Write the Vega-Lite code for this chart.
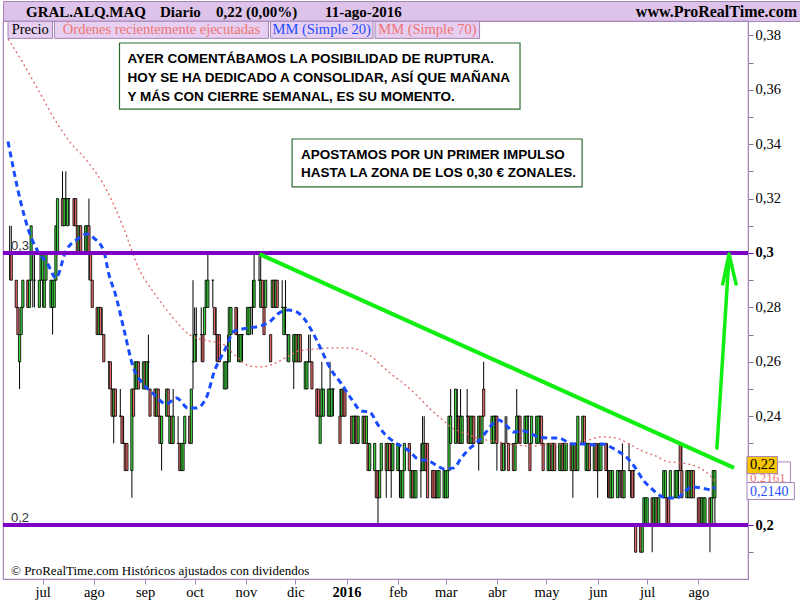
{
"$schema": "https://vega.github.io/schema/vega-lite/v6.json",
"padding": 0,
"spacing": 0,
"bounds": "flush",
"background": "#ffffff",
"config": {"view": {"stroke": null}, "font": "Liberation Serif",
 "axis": {"labelFont": "Liberation Serif", "labelFontSize": 14.5, "labelColor": "#000", "domainColor": "#a585b8", "tickColor": "#8a7098", "grid": false, "title": null}},
"datasets": {
"px": [
{"d":"2015-06-11","o":0.30,"h":0.31,"l":0.29,"c":0.30},
{"d":"2015-06-12","o":0.30,"h":0.31,"l":0.29,"c":0.29},
{"d":"2015-06-15","o":0.29,"h":0.29,"l":0.28,"c":0.28},
{"d":"2015-06-16","o":0.28,"h":0.28,"l":0.27,"c":0.27},
{"d":"2015-06-17","o":0.26,"h":0.27,"l":0.25,"c":0.27},
{"d":"2015-06-18","o":0.27,"h":0.28,"l":0.27,"c":0.28},
{"d":"2015-06-19","o":0.28,"h":0.29,"l":0.28,"c":0.29},
{"d":"2015-06-22","o":0.29,"h":0.29,"l":0.28,"c":0.28},
{"d":"2015-06-23","o":0.28,"h":0.29,"l":0.28,"c":0.29},
{"d":"2015-06-24","o":0.29,"h":0.31,"l":0.29,"c":0.31},
{"d":"2015-06-25","o":0.30,"h":0.30,"l":0.28,"c":0.30},
{"d":"2015-06-26","o":0.29,"h":0.30,"l":0.28,"c":0.29},
{"d":"2015-06-29","o":0.28,"h":0.29,"l":0.28,"c":0.29},
{"d":"2015-06-30","o":0.29,"h":0.30,"l":0.29,"c":0.30},
{"d":"2015-07-01","o":0.29,"h":0.30,"l":0.28,"c":0.30},
{"d":"2015-07-02","o":0.28,"h":0.29,"l":0.28,"c":0.29},
{"d":"2015-07-03","o":0.29,"h":0.30,"l":0.29,"c":0.30},
{"d":"2015-07-06","o":0.28,"h":0.29,"l":0.28,"c":0.29},
{"d":"2015-07-07","o":0.28,"h":0.29,"l":0.27,"c":0.29},
{"d":"2015-07-08","o":0.28,"h":0.29,"l":0.28,"c":0.29},
{"d":"2015-07-09","o":0.29,"h":0.31,"l":0.29,"c":0.31},
{"d":"2015-07-10","o":0.30,"h":0.32,"l":0.30,"c":0.32},
{"d":"2015-07-13","o":0.32,"h":0.33,"l":0.31,"c":0.31},
{"d":"2015-07-14","o":0.31,"h":0.32,"l":0.31,"c":0.32},
{"d":"2015-07-15","o":0.32,"h":0.33,"l":0.31,"c":0.32},
{"d":"2015-07-16","o":0.31,"h":0.32,"l":0.31,"c":0.32},
{"d":"2015-07-17","o":0.32,"h":0.32,"l":0.31,"c":0.32},
{"d":"2015-07-20","o":0.32,"h":0.32,"l":0.31,"c":0.31},
{"d":"2015-07-21","o":0.32,"h":0.32,"l":0.31,"c":0.31},
{"d":"2015-07-22","o":0.31,"h":0.31,"l":0.30,"c":0.30},
{"d":"2015-07-23","o":0.30,"h":0.31,"l":0.30,"c":0.31},
{"d":"2015-07-24","o":0.31,"h":0.31,"l":0.30,"c":0.30},
{"d":"2015-07-27","o":0.30,"h":0.31,"l":0.30,"c":0.31},
{"d":"2015-07-28","o":0.30,"h":0.31,"l":0.30,"c":0.31},
{"d":"2015-07-29","o":0.31,"h":0.32,"l":0.29,"c":0.30},
{"d":"2015-07-30","o":0.30,"h":0.30,"l":0.29,"c":0.29},
{"d":"2015-07-31","o":0.29,"h":0.29,"l":0.28,"c":0.28},
{"d":"2015-08-03","o":0.28,"h":0.28,"l":0.27,"c":0.27},
{"d":"2015-08-04","o":0.27,"h":0.28,"l":0.27,"c":0.28},
{"d":"2015-08-05","o":0.28,"h":0.28,"l":0.27,"c":0.27},
{"d":"2015-08-06","o":0.27,"h":0.28,"l":0.27,"c":0.27},
{"d":"2015-08-07","o":0.27,"h":0.27,"l":0.26,"c":0.26},
{"d":"2015-08-10","o":0.26,"h":0.26,"l":0.25,"c":0.26},
{"d":"2015-08-11","o":0.26,"h":0.26,"l":0.25,"c":0.25},
{"d":"2015-08-12","o":0.25,"h":0.25,"l":0.24,"c":0.24},
{"d":"2015-08-13","o":0.24,"h":0.25,"l":0.23,"c":0.25},
{"d":"2015-08-14","o":0.25,"h":0.25,"l":0.24,"c":0.24},
{"d":"2015-08-17","o":0.24,"h":0.25,"l":0.24,"c":0.24},
{"d":"2015-08-18","o":0.24,"h":0.24,"l":0.23,"c":0.23},
{"d":"2015-08-19","o":0.23,"h":0.24,"l":0.23,"c":0.23},
{"d":"2015-08-20","o":0.23,"h":0.23,"l":0.22,"c":0.22},
{"d":"2015-08-21","o":0.23,"h":0.23,"l":0.22,"c":0.22},
{"d":"2015-08-24","o":0.22,"h":0.25,"l":0.21,"c":0.25},
{"d":"2015-08-25","o":0.25,"h":0.25,"l":0.24,"c":0.24},
{"d":"2015-08-26","o":0.25,"h":0.26,"l":0.25,"c":0.26},
{"d":"2015-08-27","o":0.25,"h":0.26,"l":0.25,"c":0.26},
{"d":"2015-08-28","o":0.26,"h":0.26,"l":0.25,"c":0.25},
{"d":"2015-08-31","o":0.25,"h":0.26,"l":0.25,"c":0.26},
{"d":"2015-09-01","o":0.26,"h":0.26,"l":0.25,"c":0.25},
{"d":"2015-09-02","o":0.25,"h":0.26,"l":0.25,"c":0.26},
{"d":"2015-09-03","o":0.26,"h":0.27,"l":0.25,"c":0.26},
{"d":"2015-09-04","o":0.25,"h":0.25,"l":0.24,"c":0.24},
{"d":"2015-09-07","o":0.25,"h":0.25,"l":0.24,"c":0.24},
{"d":"2015-09-08","o":0.24,"h":0.25,"l":0.24,"c":0.25},
{"d":"2015-09-09","o":0.25,"h":0.25,"l":0.24,"c":0.24},
{"d":"2015-09-10","o":0.24,"h":0.24,"l":0.23,"c":0.23},
{"d":"2015-09-11","o":0.23,"h":0.24,"l":0.22,"c":0.24},
{"d":"2015-09-14","o":0.24,"h":0.25,"l":0.24,"c":0.25},
{"d":"2015-09-15","o":0.25,"h":0.25,"l":0.24,"c":0.24},
{"d":"2015-09-16","o":0.23,"h":0.24,"l":0.23,"c":0.24},
{"d":"2015-09-17","o":0.24,"h":0.24,"l":0.23,"c":0.23},
{"d":"2015-09-18","o":0.23,"h":0.25,"l":0.23,"c":0.24},
{"d":"2015-09-21","o":0.23,"h":0.24,"l":0.23,"c":0.23},
{"d":"2015-09-22","o":0.23,"h":0.23,"l":0.22,"c":0.22},
{"d":"2015-09-23","o":0.22,"h":0.23,"l":0.22,"c":0.23},
{"d":"2015-09-24","o":0.22,"h":0.23,"l":0.22,"c":0.23},
{"d":"2015-09-25","o":0.23,"h":0.24,"l":0.23,"c":0.24},
{"d":"2015-09-28","o":0.24,"h":0.24,"l":0.23,"c":0.23},
{"d":"2015-09-29","o":0.23,"h":0.25,"l":0.23,"c":0.25},
{"d":"2015-09-30","o":0.26,"h":0.29,"l":0.25,"c":0.26},
{"d":"2015-10-01","o":0.26,"h":0.28,"l":0.26,"c":0.27},
{"d":"2015-10-02","o":0.27,"h":0.28,"l":0.26,"c":0.27},
{"d":"2015-10-05","o":0.27,"h":0.28,"l":0.26,"c":0.27},
{"d":"2015-10-06","o":0.27,"h":0.27,"l":0.26,"c":0.26},
{"d":"2015-10-07","o":0.27,"h":0.28,"l":0.27,"c":0.28},
{"d":"2015-10-08","o":0.28,"h":0.29,"l":0.28,"c":0.29},
{"d":"2015-10-09","o":0.28,"h":0.30,"l":0.28,"c":0.29},
{"d":"2015-10-12","o":0.29,"h":0.29,"l":0.28,"c":0.29},
{"d":"2015-10-13","o":0.28,"h":0.28,"l":0.27,"c":0.27},
{"d":"2015-10-14","o":0.27,"h":0.28,"l":0.26,"c":0.27},
{"d":"2015-10-15","o":0.27,"h":0.27,"l":0.26,"c":0.26},
{"d":"2015-10-16","o":0.27,"h":0.27,"l":0.26,"c":0.26},
{"d":"2015-10-19","o":0.25,"h":0.26,"l":0.25,"c":0.26},
{"d":"2015-10-20","o":0.25,"h":0.26,"l":0.25,"c":0.26},
{"d":"2015-10-21","o":0.26,"h":0.27,"l":0.25,"c":0.26},
{"d":"2015-10-22","o":0.26,"h":0.28,"l":0.26,"c":0.28},
{"d":"2015-10-23","o":0.27,"h":0.28,"l":0.27,"c":0.28},
{"d":"2015-10-26","o":0.28,"h":0.28,"l":0.27,"c":0.27},
{"d":"2015-10-27","o":0.27,"h":0.28,"l":0.26,"c":0.27},
{"d":"2015-10-28","o":0.26,"h":0.27,"l":0.26,"c":0.27},
{"d":"2015-10-29","o":0.26,"h":0.27,"l":0.26,"c":0.27},
{"d":"2015-10-30","o":0.27,"h":0.27,"l":0.26,"c":0.27},
{"d":"2015-11-02","o":0.27,"h":0.28,"l":0.27,"c":0.28},
{"d":"2015-11-03","o":0.27,"h":0.28,"l":0.27,"c":0.28},
{"d":"2015-11-04","o":0.28,"h":0.28,"l":0.27,"c":0.28},
{"d":"2015-11-05","o":0.28,"h":0.29,"l":0.27,"c":0.28},
{"d":"2015-11-06","o":0.28,"h":0.30,"l":0.28,"c":0.29},
{"d":"2015-11-09","o":0.29,"h":0.30,"l":0.29,"c":0.29},
{"d":"2015-11-10","o":0.28,"h":0.30,"l":0.28,"c":0.29},
{"d":"2015-11-11","o":0.29,"h":0.29,"l":0.28,"c":0.28},
{"d":"2015-11-12","o":0.28,"h":0.28,"l":0.27,"c":0.27},
{"d":"2015-11-13","o":0.28,"h":0.29,"l":0.28,"c":0.29},
{"d":"2015-11-16","o":0.27,"h":0.27,"l":0.26,"c":0.26},
{"d":"2015-11-17","o":0.28,"h":0.29,"l":0.28,"c":0.29},
{"d":"2015-11-18","o":0.29,"h":0.29,"l":0.28,"c":0.28},
{"d":"2015-11-19","o":0.28,"h":0.29,"l":0.28,"c":0.29},
{"d":"2015-11-20","o":0.29,"h":0.29,"l":0.28,"c":0.28},
{"d":"2015-11-23","o":0.28,"h":0.29,"l":0.28,"c":0.28},
{"d":"2015-11-24","o":0.27,"h":0.28,"l":0.27,"c":0.28},
{"d":"2015-11-25","o":0.28,"h":0.29,"l":0.27,"c":0.28},
{"d":"2015-11-26","o":0.27,"h":0.27,"l":0.26,"c":0.27},
{"d":"2015-11-27","o":0.26,"h":0.27,"l":0.26,"c":0.27},
{"d":"2015-11-30","o":0.26,"h":0.27,"l":0.25,"c":0.27},
{"d":"2015-12-01","o":0.26,"h":0.27,"l":0.26,"c":0.27},
{"d":"2015-12-02","o":0.27,"h":0.27,"l":0.26,"c":0.26},
{"d":"2015-12-03","o":0.26,"h":0.27,"l":0.26,"c":0.27},
{"d":"2015-12-04","o":0.27,"h":0.27,"l":0.26,"c":0.26},
{"d":"2015-12-07","o":0.25,"h":0.26,"l":0.25,"c":0.26},
{"d":"2015-12-08","o":0.25,"h":0.26,"l":0.25,"c":0.26},
{"d":"2015-12-09","o":0.26,"h":0.27,"l":0.26,"c":0.26},
{"d":"2015-12-10","o":0.26,"h":0.27,"l":0.26,"c":0.26},
{"d":"2015-12-11","o":0.26,"h":0.26,"l":0.25,"c":0.25},
{"d":"2015-12-14","o":0.25,"h":0.25,"l":0.24,"c":0.24},
{"d":"2015-12-15","o":0.25,"h":0.25,"l":0.24,"c":0.24},
{"d":"2015-12-16","o":0.23,"h":0.24,"l":0.23,"c":0.24},
{"d":"2015-12-17","o":0.24,"h":0.26,"l":0.24,"c":0.25},
{"d":"2015-12-18","o":0.24,"h":0.25,"l":0.24,"c":0.25},
{"d":"2015-12-21","o":0.24,"h":0.25,"l":0.24,"c":0.25},
{"d":"2015-12-22","o":0.24,"h":0.26,"l":0.24,"c":0.25},
{"d":"2015-12-23","o":0.24,"h":0.25,"l":0.24,"c":0.25},
{"d":"2015-12-24","o":0.25,"h":0.25,"l":0.24,"c":0.25},
{"d":"2015-12-28","o":0.24,"h":0.25,"l":0.23,"c":0.23},
{"d":"2015-12-29","o":0.24,"h":0.25,"l":0.24,"c":0.25},
{"d":"2015-12-30","o":0.25,"h":0.25,"l":0.24,"c":0.24},
{"d":"2015-12-31","o":0.25,"h":0.25,"l":0.24,"c":0.24},
{"d":"2016-01-04","o":0.24,"h":0.24,"l":0.23,"c":0.23},
{"d":"2016-01-05","o":0.23,"h":0.24,"l":0.23,"c":0.24},
{"d":"2016-01-06","o":0.24,"h":0.24,"l":0.23,"c":0.24},
{"d":"2016-01-07","o":0.24,"h":0.24,"l":0.23,"c":0.23},
{"d":"2016-01-08","o":0.23,"h":0.24,"l":0.23,"c":0.24},
{"d":"2016-01-11","o":0.23,"h":0.24,"l":0.23,"c":0.24},
{"d":"2016-01-12","o":0.24,"h":0.24,"l":0.23,"c":0.23},
{"d":"2016-01-13","o":0.23,"h":0.24,"l":0.23,"c":0.24},
{"d":"2016-01-14","o":0.23,"h":0.23,"l":0.22,"c":0.22},
{"d":"2016-01-15","o":0.22,"h":0.23,"l":0.22,"c":0.23},
{"d":"2016-01-18","o":0.22,"h":0.23,"l":0.22,"c":0.23},
{"d":"2016-01-19","o":0.22,"h":0.22,"l":0.21,"c":0.21},
{"d":"2016-01-20","o":0.22,"h":0.22,"l":0.20,"c":0.21},
{"d":"2016-01-21","o":0.21,"h":0.22,"l":0.21,"c":0.22},
{"d":"2016-01-22","o":0.22,"h":0.23,"l":0.22,"c":0.23},
{"d":"2016-01-25","o":0.23,"h":0.23,"l":0.21,"c":0.22},
{"d":"2016-01-26","o":0.22,"h":0.23,"l":0.22,"c":0.23},
{"d":"2016-01-27","o":0.23,"h":0.23,"l":0.22,"c":0.22},
{"d":"2016-01-28","o":0.22,"h":0.23,"l":0.21,"c":0.22},
{"d":"2016-01-29","o":0.22,"h":0.23,"l":0.22,"c":0.23},
{"d":"2016-02-01","o":0.22,"h":0.23,"l":0.22,"c":0.23},
{"d":"2016-02-02","o":0.22,"h":0.23,"l":0.21,"c":0.22},
{"d":"2016-02-03","o":0.21,"h":0.22,"l":0.21,"c":0.22},
{"d":"2016-02-04","o":0.21,"h":0.22,"l":0.21,"c":0.22},
{"d":"2016-02-05","o":0.22,"h":0.23,"l":0.22,"c":0.23},
{"d":"2016-02-08","o":0.23,"h":0.23,"l":0.22,"c":0.22},
{"d":"2016-02-09","o":0.21,"h":0.22,"l":0.21,"c":0.22},
{"d":"2016-02-10","o":0.22,"h":0.22,"l":0.21,"c":0.21},
{"d":"2016-02-11","o":0.21,"h":0.22,"l":0.21,"c":0.22},
{"d":"2016-02-12","o":0.21,"h":0.22,"l":0.21,"c":0.22},
{"d":"2016-02-15","o":0.22,"h":0.23,"l":0.21,"c":0.22},
{"d":"2016-02-16","o":0.22,"h":0.24,"l":0.22,"c":0.23},
{"d":"2016-02-17","o":0.22,"h":0.24,"l":0.22,"c":0.23},
{"d":"2016-02-18","o":0.23,"h":0.23,"l":0.22,"c":0.22},
{"d":"2016-02-19","o":0.23,"h":0.23,"l":0.21,"c":0.21},
{"d":"2016-02-22","o":0.22,"h":0.22,"l":0.21,"c":0.21},
{"d":"2016-02-23","o":0.22,"h":0.22,"l":0.21,"c":0.21},
{"d":"2016-02-24","o":0.21,"h":0.22,"l":0.21,"c":0.21},
{"d":"2016-02-25","o":0.21,"h":0.22,"l":0.21,"c":0.22},
{"d":"2016-02-26","o":0.21,"h":0.22,"l":0.21,"c":0.22},
{"d":"2016-02-29","o":0.21,"h":0.22,"l":0.21,"c":0.22},
{"d":"2016-03-01","o":0.21,"h":0.22,"l":0.21,"c":0.22},
{"d":"2016-03-02","o":0.21,"h":0.22,"l":0.21,"c":0.22},
{"d":"2016-03-03","o":0.22,"h":0.24,"l":0.22,"c":0.24},
{"d":"2016-03-04","o":0.23,"h":0.25,"l":0.23,"c":0.24},
{"d":"2016-03-07","o":0.23,"h":0.25,"l":0.23,"c":0.25},
{"d":"2016-03-08","o":0.24,"h":0.25,"l":0.23,"c":0.24},
{"d":"2016-03-09","o":0.24,"h":0.24,"l":0.23,"c":0.23},
{"d":"2016-03-10","o":0.23,"h":0.25,"l":0.23,"c":0.24},
{"d":"2016-03-11","o":0.23,"h":0.24,"l":0.23,"c":0.24},
{"d":"2016-03-14","o":0.24,"h":0.25,"l":0.23,"c":0.24},
{"d":"2016-03-15","o":0.24,"h":0.24,"l":0.23,"c":0.23},
{"d":"2016-03-16","o":0.23,"h":0.24,"l":0.23,"c":0.24},
{"d":"2016-03-17","o":0.23,"h":0.24,"l":0.23,"c":0.24},
{"d":"2016-03-18","o":0.24,"h":0.24,"l":0.23,"c":0.23},
{"d":"2016-03-21","o":0.23,"h":0.24,"l":0.22,"c":0.24},
{"d":"2016-03-22","o":0.24,"h":0.24,"l":0.23,"c":0.23},
{"d":"2016-03-23","o":0.23,"h":0.24,"l":0.23,"c":0.24},
{"d":"2016-03-24","o":0.25,"h":0.26,"l":0.24,"c":0.24},
{"d":"2016-03-29","o":0.23,"h":0.24,"l":0.23,"c":0.24},
{"d":"2016-03-30","o":0.23,"h":0.24,"l":0.23,"c":0.24},
{"d":"2016-03-31","o":0.24,"h":0.24,"l":0.23,"c":0.24},
{"d":"2016-04-01","o":0.24,"h":0.24,"l":0.22,"c":0.23},
{"d":"2016-04-04","o":0.23,"h":0.23,"l":0.22,"c":0.22},
{"d":"2016-04-05","o":0.22,"h":0.23,"l":0.22,"c":0.23},
{"d":"2016-04-06","o":0.23,"h":0.24,"l":0.22,"c":0.23},
{"d":"2016-04-07","o":0.23,"h":0.24,"l":0.23,"c":0.23},
{"d":"2016-04-08","o":0.23,"h":0.23,"l":0.22,"c":0.22},
{"d":"2016-04-11","o":0.23,"h":0.23,"l":0.22,"c":0.22},
{"d":"2016-04-12","o":0.22,"h":0.23,"l":0.22,"c":0.23},
{"d":"2016-04-13","o":0.23,"h":0.25,"l":0.23,"c":0.24},
{"d":"2016-04-14","o":0.24,"h":0.24,"l":0.23,"c":0.24},
{"d":"2016-04-15","o":0.24,"h":0.24,"l":0.23,"c":0.23},
{"d":"2016-04-18","o":0.23,"h":0.24,"l":0.23,"c":0.24},
{"d":"2016-04-19","o":0.23,"h":0.24,"l":0.23,"c":0.24},
{"d":"2016-04-20","o":0.24,"h":0.24,"l":0.23,"c":0.24},
{"d":"2016-04-21","o":0.23,"h":0.23,"l":0.22,"c":0.22},
{"d":"2016-04-22","o":0.23,"h":0.24,"l":0.23,"c":0.24},
{"d":"2016-04-25","o":0.23,"h":0.24,"l":0.23,"c":0.24},
{"d":"2016-04-26","o":0.23,"h":0.24,"l":0.23,"c":0.24},
{"d":"2016-04-27","o":0.24,"h":0.24,"l":0.23,"c":0.24},
{"d":"2016-04-28","o":0.24,"h":0.24,"l":0.23,"c":0.23},
{"d":"2016-04-29","o":0.23,"h":0.23,"l":0.22,"c":0.22},
{"d":"2016-05-02","o":0.22,"h":0.23,"l":0.22,"c":0.23},
{"d":"2016-05-03","o":0.22,"h":0.23,"l":0.22,"c":0.23},
{"d":"2016-05-04","o":0.23,"h":0.23,"l":0.22,"c":0.22},
{"d":"2016-05-05","o":0.22,"h":0.23,"l":0.22,"c":0.23},
{"d":"2016-05-06","o":0.23,"h":0.23,"l":0.22,"c":0.22},
{"d":"2016-05-09","o":0.22,"h":0.23,"l":0.22,"c":0.23},
{"d":"2016-05-10","o":0.22,"h":0.23,"l":0.22,"c":0.23},
{"d":"2016-05-11","o":0.23,"h":0.23,"l":0.22,"c":0.22},
{"d":"2016-05-12","o":0.22,"h":0.23,"l":0.22,"c":0.23},
{"d":"2016-05-13","o":0.22,"h":0.23,"l":0.22,"c":0.23},
{"d":"2016-05-16","o":0.23,"h":0.23,"l":0.22,"c":0.22},
{"d":"2016-05-17","o":0.22,"h":0.23,"l":0.21,"c":0.23},
{"d":"2016-05-18","o":0.22,"h":0.23,"l":0.22,"c":0.23},
{"d":"2016-05-19","o":0.23,"h":0.23,"l":0.22,"c":0.22},
{"d":"2016-05-20","o":0.22,"h":0.24,"l":0.22,"c":0.24},
{"d":"2016-05-23","o":0.23,"h":0.24,"l":0.23,"c":0.24},
{"d":"2016-05-24","o":0.24,"h":0.24,"l":0.23,"c":0.23},
{"d":"2016-05-25","o":0.22,"h":0.23,"l":0.22,"c":0.23},
{"d":"2016-05-26","o":0.22,"h":0.23,"l":0.22,"c":0.23},
{"d":"2016-05-27","o":0.23,"h":0.23,"l":0.22,"c":0.22},
{"d":"2016-05-30","o":0.22,"h":0.23,"l":0.22,"c":0.23},
{"d":"2016-05-31","o":0.23,"h":0.23,"l":0.22,"c":0.22},
{"d":"2016-06-01","o":0.22,"h":0.23,"l":0.21,"c":0.22},
{"d":"2016-06-02","o":0.22,"h":0.23,"l":0.22,"c":0.23},
{"d":"2016-06-03","o":0.22,"h":0.23,"l":0.22,"c":0.23},
{"d":"2016-06-06","o":0.23,"h":0.23,"l":0.22,"c":0.22},
{"d":"2016-06-07","o":0.22,"h":0.23,"l":0.21,"c":0.22},
{"d":"2016-06-08","o":0.22,"h":0.22,"l":0.21,"c":0.21},
{"d":"2016-06-09","o":0.21,"h":0.22,"l":0.21,"c":0.22},
{"d":"2016-06-10","o":0.21,"h":0.22,"l":0.21,"c":0.22},
{"d":"2016-06-13","o":0.21,"h":0.22,"l":0.21,"c":0.22},
{"d":"2016-06-14","o":0.22,"h":0.22,"l":0.21,"c":0.22},
{"d":"2016-06-15","o":0.22,"h":0.22,"l":0.21,"c":0.22},
{"d":"2016-06-16","o":0.22,"h":0.23,"l":0.21,"c":0.21},
{"d":"2016-06-17","o":0.21,"h":0.22,"l":0.21,"c":0.22},
{"d":"2016-06-20","o":0.22,"h":0.23,"l":0.22,"c":0.22},
{"d":"2016-06-21","o":0.22,"h":0.22,"l":0.21,"c":0.22},
{"d":"2016-06-22","o":0.22,"h":0.22,"l":0.21,"c":0.21},
{"d":"2016-06-23","o":0.22,"h":0.22,"l":0.21,"c":0.22},
{"d":"2016-06-24","o":0.20,"h":0.20,"l":0.19,"c":0.19},
{"d":"2016-06-27","o":0.20,"h":0.20,"l":0.19,"c":0.19},
{"d":"2016-06-28","o":0.19,"h":0.20,"l":0.19,"c":0.20},
{"d":"2016-06-29","o":0.20,"h":0.21,"l":0.20,"c":0.21},
{"d":"2016-06-30","o":0.20,"h":0.21,"l":0.20,"c":0.21},
{"d":"2016-07-01","o":0.20,"h":0.21,"l":0.20,"c":0.21},
{"d":"2016-07-04","o":0.21,"h":0.21,"l":0.19,"c":0.20},
{"d":"2016-07-05","o":0.20,"h":0.21,"l":0.20,"c":0.21},
{"d":"2016-07-06","o":0.20,"h":0.21,"l":0.20,"c":0.21},
{"d":"2016-07-07","o":0.21,"h":0.21,"l":0.20,"c":0.20},
{"d":"2016-07-08","o":0.20,"h":0.21,"l":0.20,"c":0.21},
{"d":"2016-07-11","o":0.21,"h":0.22,"l":0.21,"c":0.22},
{"d":"2016-07-12","o":0.21,"h":0.22,"l":0.21,"c":0.22},
{"d":"2016-07-13","o":0.21,"h":0.21,"l":0.20,"c":0.20},
{"d":"2016-07-14","o":0.21,"h":0.21,"l":0.20,"c":0.20},
{"d":"2016-07-15","o":0.21,"h":0.22,"l":0.21,"c":0.22},
{"d":"2016-07-18","o":0.21,"h":0.22,"l":0.21,"c":0.22},
{"d":"2016-07-19","o":0.21,"h":0.22,"l":0.21,"c":0.22},
{"d":"2016-07-20","o":0.22,"h":0.22,"l":0.21,"c":0.22},
{"d":"2016-07-21","o":0.23,"h":0.23,"l":0.22,"c":0.22},
{"d":"2016-07-22","o":0.22,"h":0.23,"l":0.21,"c":0.21},
{"d":"2016-07-25","o":0.21,"h":0.22,"l":0.21,"c":0.22},
{"d":"2016-07-26","o":0.21,"h":0.22,"l":0.21,"c":0.22},
{"d":"2016-07-27","o":0.22,"h":0.22,"l":0.21,"c":0.21},
{"d":"2016-07-28","o":0.21,"h":0.22,"l":0.21,"c":0.22},
{"d":"2016-07-29","o":0.22,"h":0.22,"l":0.21,"c":0.21},
{"d":"2016-08-01","o":0.21,"h":0.21,"l":0.20,"c":0.20},
{"d":"2016-08-02","o":0.21,"h":0.21,"l":0.20,"c":0.20},
{"d":"2016-08-03","o":0.20,"h":0.21,"l":0.20,"c":0.21},
{"d":"2016-08-04","o":0.20,"h":0.21,"l":0.20,"c":0.21},
{"d":"2016-08-05","o":0.20,"h":0.21,"l":0.20,"c":0.21},
{"d":"2016-08-08","o":0.21,"h":0.21,"l":0.19,"c":0.20},
{"d":"2016-08-09","o":0.20,"h":0.21,"l":0.20,"c":0.21},
{"d":"2016-08-10","o":0.21,"h":0.22,"l":0.21,"c":0.22},
{"d":"2016-08-11","o":0.21,"h":0.22,"l":0.20,"c":0.22}
],
"ma20": [
{"d":"2015-06-10","v":0.341},{"d":"2015-06-18","v":0.318},{"d":"2015-06-22","v":0.3092},{"d":"2015-06-28","v":0.3007},
{"d":"2015-07-04","v":0.296},{"d":"2015-07-09","v":0.2908},{"d":"2015-07-15","v":0.3007},{"d":"2015-07-22","v":0.3051},
{"d":"2015-07-28","v":0.307},{"d":"2015-08-01","v":0.3055},{"d":"2015-08-07","v":0.3007},{"d":"2015-08-10","v":0.2923},
{"d":"2015-08-14","v":0.2849},{"d":"2015-08-19","v":0.2724},{"d":"2015-08-25","v":0.2577},{"d":"2015-08-31","v":0.2518},
{"d":"2015-09-06","v":0.2482},{"d":"2015-09-14","v":0.2445},{"d":"2015-09-20","v":0.2467},{"d":"2015-09-27","v":0.243},
{"d":"2015-10-02","v":0.243},{"d":"2015-10-08","v":0.2467},{"d":"2015-10-13","v":0.2566},{"d":"2015-10-19","v":0.264},
{"d":"2015-10-25","v":0.2713},{"d":"2015-11-02","v":0.2724},{"d":"2015-11-10","v":0.2732},{"d":"2015-11-16","v":0.275},
{"d":"2015-11-21","v":0.2779},{"d":"2015-11-27","v":0.279},{"d":"2015-12-02","v":0.2783},{"d":"2015-12-06","v":0.2761},
{"d":"2015-12-12","v":0.2702},{"d":"2015-12-17","v":0.264},{"d":"2015-12-22","v":0.2577},{"d":"2015-12-29","v":0.2518},
{"d":"2016-01-04","v":0.2463},{"d":"2016-01-10","v":0.2419},{"d":"2016-01-15","v":0.2415},{"d":"2016-01-20","v":0.2368},
{"d":"2016-01-24","v":0.2335},{"d":"2016-01-29","v":0.2309},{"d":"2016-02-03","v":0.229},{"d":"2016-02-08","v":0.2272},
{"d":"2016-02-13","v":0.2243},{"d":"2016-02-20","v":0.2235},{"d":"2016-02-25","v":0.2217},{"d":"2016-02-29","v":0.2206},
{"d":"2016-03-06","v":0.221},{"d":"2016-03-10","v":0.2243},{"d":"2016-03-14","v":0.2272},{"d":"2016-03-18","v":0.2294},
{"d":"2016-03-22","v":0.2316},{"d":"2016-03-26","v":0.2346},{"d":"2016-03-30","v":0.2375},{"d":"2016-04-02","v":0.2386},
{"d":"2016-04-07","v":0.2364},{"d":"2016-04-11","v":0.2342},{"d":"2016-04-17","v":0.2346},{"d":"2016-04-22","v":0.2335},
{"d":"2016-04-26","v":0.2324},{"d":"2016-05-02","v":0.232},{"d":"2016-05-08","v":0.232},{"d":"2016-05-17","v":0.2298},
{"d":"2016-05-24","v":0.2298},{"d":"2016-05-30","v":0.2294},{"d":"2016-06-04","v":0.2298},{"d":"2016-06-10","v":0.2283},
{"d":"2016-06-15","v":0.2265},{"d":"2016-06-19","v":0.2246},{"d":"2016-06-23","v":0.2217},{"d":"2016-06-29","v":0.2162},
{"d":"2016-07-04","v":0.2132},{"d":"2016-07-09","v":0.2107},{"d":"2016-07-14","v":0.2099},{"d":"2016-07-19","v":0.2099},
{"d":"2016-07-24","v":0.2125},{"d":"2016-07-28","v":0.214},{"d":"2016-08-03","v":0.2136},{"d":"2016-08-09","v":0.2129},
{"d":"2016-08-11","v":0.214}
],
"ma70": [
{"d":"2015-06-10","v":0.3787},{"d":"2015-06-19","v":0.3699},{"d":"2015-06-28","v":0.3603},{"d":"2015-07-07","v":0.3504},
{"d":"2015-07-17","v":0.3412},{"d":"2015-07-28","v":0.3338},{"d":"2015-08-09","v":0.3228},{"d":"2015-08-19","v":0.3092},
{"d":"2015-08-28","v":0.2945},{"d":"2015-09-07","v":0.2849},{"d":"2015-09-18","v":0.2761},{"d":"2015-09-28","v":0.2699},
{"d":"2015-10-10","v":0.2676},{"d":"2015-10-18","v":0.2665},{"d":"2015-10-26","v":0.2621},{"d":"2015-11-03","v":0.2585},
{"d":"2015-11-11","v":0.2581},{"d":"2015-11-19","v":0.2596},{"d":"2015-11-27","v":0.2621},{"d":"2015-12-03","v":0.264},
{"d":"2015-12-13","v":0.2647},{"d":"2015-12-23","v":0.2651},{"d":"2016-01-02","v":0.2651},{"d":"2016-01-10","v":0.264},
{"d":"2016-01-18","v":0.261},{"d":"2016-01-23","v":0.2581},{"d":"2016-01-28","v":0.2555},{"d":"2016-02-05","v":0.2518},
{"d":"2016-02-13","v":0.2474},{"d":"2016-02-20","v":0.243},{"d":"2016-02-29","v":0.2382},{"d":"2016-03-06","v":0.2353},
{"d":"2016-03-14","v":0.2335},{"d":"2016-03-22","v":0.2316},{"d":"2016-03-30","v":0.2309},{"d":"2016-04-13","v":0.2294},
{"d":"2016-04-23","v":0.229},{"d":"2016-05-01","v":0.2298},{"d":"2016-05-11","v":0.2298},{"d":"2016-05-26","v":0.2312},
{"d":"2016-06-04","v":0.2324},{"d":"2016-06-12","v":0.232},{"d":"2016-06-20","v":0.2298},{"d":"2016-06-28","v":0.2272},
{"d":"2016-07-06","v":0.2254},{"d":"2016-07-14","v":0.2232},{"d":"2016-07-22","v":0.2228},{"d":"2016-07-30","v":0.2217},
{"d":"2016-08-07","v":0.2188},{"d":"2016-08-11","v":0.2161}
],
"trend": [{"d":"2015-11-09T07:00:00Z","p":0.2996},{"d":"2016-08-22T14:00:00Z","p":0.221}],
"arrow": [
{"g":"s","k":1,"d":"2016-08-12T05:00:00Z","p":0.2283},
{"g":"s","k":2,"d":"2016-08-19T14:00:00Z","p":0.2990},
{"g":"h","k":1,"d":"2016-08-15T17:00:00Z","p":0.2886},
{"g":"h","k":2,"d":"2016-08-19T14:00:00Z","p":0.2996},
{"g":"h","k":3,"d":"2016-08-23T19:00:00Z","p":0.2886}
]
},
"vconcat": [
{
"width": 800, "height": 20,
"view": {"fill": "#ddc2e9", "stroke": "#a585b8"},
"data": {"values": [{}]},
"layer": [
{"mark": {"type": "text", "x": 23, "y": 11, "text": "GRAL.ALQ.MAQ", "align": "left", "baseline": "middle", "font": "Liberation Serif", "fontWeight": "bold", "fontSize": 15, "color": "#000"}},
{"mark": {"type": "text", "x": 157, "y": 11, "text": "Diario", "align": "left", "baseline": "middle", "font": "Liberation Serif", "fontWeight": "bold", "fontSize": 15, "color": "#000"}},
{"mark": {"type": "text", "x": 213, "y": 11, "text": "0,22 (0,00%)", "align": "left", "baseline": "middle", "font": "Liberation Serif", "fontWeight": "bold", "fontSize": 15, "color": "#000"}},
{"mark": {"type": "text", "x": 322, "y": 11, "text": "11-ago-2016", "align": "left", "baseline": "middle", "font": "Liberation Serif", "fontWeight": "bold", "fontSize": 15, "color": "#000"}},
{"mark": {"type": "text", "x": 794, "y": 11, "text": "www.ProRealTime.com", "align": "right", "baseline": "middle", "font": "Liberation Serif", "fontWeight": "bold", "fontSize": 16, "color": "#000"}}
]
},
{
"width": 745, "height": 558,
"view": {"stroke": "#a585b8", "strokeWidth": 1.2},
"layer": [
{"data": {"name": "px"},
 "mark": {"type": "rule", "color": "#000", "strokeWidth": 1},
 "encoding": {
  "x": {"field": "d", "type": "temporal",
   "scale": {"type": "utc", "domain": [{"year": 2015, "month": 6, "date": 10, "utc": true}, {"year": 2016, "month": 8, "date": 28, "utc": true}]},
   "axis": {"orient": "bottom", "tickCount": {"interval": "month", "step": 1},
    "labelExpr": "utcmonth(datum.value)==0 ? ''+utcyear(datum.value) : ['ene','feb','mar','abr','may','jun','jul','ago','sep','oct','nov','dic'][utcmonth(datum.value)]",
    "labelFontWeight": {"condition": {"test": "utcmonth(datum.value)==0", "value": "bold"}, "value": "normal"},
    "labelFlush": false, "labelOverlap": false, "tickSize": 5, "tickColor": "#a585b8", "labelPadding": 1}},
  "y": {"field": "l", "type": "quantitative",
   "scale": {"domain": [0.18015, 0.38529], "nice": false, "zero": false},
   "axis": {"orient": "right", "tickCount": 40, "labelOverlap": false,
    "values": [0.19,0.2,0.21,0.22,0.23,0.24,0.25,0.26,0.27,0.28,0.29,0.3,0.31,0.32,0.33,0.34,0.35,0.36,0.37,0.38],
    "format": ".2~f", "tickSize": 5, "labelPadding": 2,
    "labelFontWeight": {"condition": {"test": "datum.value > 0.295 && datum.value < 0.305 || datum.value > 0.195 && datum.value < 0.205", "value": "bold"}, "value": "normal"},
    "tickColor": {"condition": {"test": "datum.value > 0.295 && datum.value < 0.305 || datum.value > 0.195 && datum.value < 0.205", "value": "#7b00c4"}, "value": "#8a7098"},
    "labelExpr": "indexof(['0.38','0.36','0.34','0.32','0.3','0.28','0.26','0.24','0.2'], datum.label) >= 0 ? ['0,38','0,36','0,34','0,32','0,3','0,28','0,26','0,24','0,2'][indexof(['0.38','0.36','0.34','0.32','0.3','0.28','0.26','0.24','0.2'], datum.label)] : ''"}},
  "y2": {"field": "h"}}},
{"data": {"name": "px"},
 "mark": {"type": "bar", "width": 2.2, "stroke": "#000", "strokeWidth": 0.8},
 "encoding": {
  "x": {"field": "d", "type": "temporal"},
  "y": {"field": "o", "type": "quantitative"},
  "y2": {"field": "c"},
  "fill": {"condition": [{"test": "datum.c > datum.o", "value": "#3fd03f"}, {"test": "datum.c < datum.o", "value": "#e36a6a"}], "value": "#ffffff"}}},
{"data": {"name": "ma70"},
 "mark": {"type": "line", "color": "#e46868", "strokeWidth": 1.3, "strokeDash": [2, 3], "interpolate": "monotone"},
 "encoding": {"x": {"field": "d", "type": "temporal"}, "y": {"field": "v", "type": "quantitative"}}},
{"data": {"name": "ma20"},
 "mark": {"type": "line", "color": "#1a4cff", "strokeWidth": 3, "strokeDash": [6, 4], "interpolate": "monotone"},
 "encoding": {"x": {"field": "d", "type": "temporal"}, "y": {"field": "v", "type": "quantitative"}}},
{"data": {"values": [{}]},
 "mark": {"type": "rule", "color": "#7b00c4", "strokeWidth": 4},
 "encoding": {"y": {"datum": 0.3, "type": "quantitative"}}},
{"data": {"values": [{}]},
 "mark": {"type": "rule", "color": "#7b00c4", "strokeWidth": 4},
 "encoding": {"y": {"datum": 0.2, "type": "quantitative"}}},
{"data": {"name": "trend"},
 "mark": {"type": "line", "color": "#11ee11", "strokeWidth": 4},
 "encoding": {"x": {"field": "d", "type": "temporal"}, "y": {"field": "p", "type": "quantitative"}}},
{"data": {"name": "arrow"},
 "mark": {"type": "line", "color": "#11ee11", "strokeWidth": 3.5, "strokeCap": "round", "strokeJoin": "round"},
 "encoding": {"x": {"field": "d", "type": "temporal"}, "y": {"field": "p", "type": "quantitative"}, "detail": {"field": "g"}, "order": {"field": "k"}}},
{"data": {"values": [{}]},
 "mark": {"type": "rect", "fill": "#ffffff", "stroke": "#2e6b30", "strokeWidth": 1.2},
 "encoding": {
  "x": {"datum": {"year": 2015, "month": 8, "date": 16, "hours": 12, "utc": true}, "type": "temporal"},
  "x2": {"datum": {"year": 2016, "month": 4, "date": 15, "utc": true}},
  "y": {"datum": 0.3772, "type": "quantitative"}, "y2": {"datum": 0.3529}}},
{"data": {"values": [{}]},
 "mark": {"type": "text", "text": "AYER COMENTÁBAMOS LA POSIBILIDAD DE RUPTURA.", "align": "left", "baseline": "middle", "font": "Liberation Sans", "fontWeight": "bold", "fontSize": 13.5, "color": "#000"},
 "encoding": {"x": {"datum": {"year": 2015, "month": 8, "date": 21, "hours": 7, "utc": true}, "type": "temporal"}, "y": {"datum": 0.3713, "type": "quantitative"}}},
{"data": {"values": [{}]},
 "mark": {"type": "text", "text": "HOY SE HA DEDICADO A CONSOLIDAR, ASÍ QUE MAÑANA", "align": "left", "baseline": "middle", "font": "Liberation Sans", "fontWeight": "bold", "fontSize": 13.5, "color": "#000"},
 "encoding": {"x": {"datum": {"year": 2015, "month": 8, "date": 21, "hours": 7, "utc": true}, "type": "temporal"}, "y": {"datum": 0.3643, "type": "quantitative"}}},
{"data": {"values": [{}]},
 "mark": {"type": "text", "text": "Y MÁS CON CIERRE SEMANAL, ES SU MOMENTO.", "align": "left", "baseline": "middle", "font": "Liberation Sans", "fontWeight": "bold", "fontSize": 13.5, "color": "#000"},
 "encoding": {"x": {"datum": {"year": 2015, "month": 8, "date": 21, "hours": 7, "utc": true}, "type": "temporal"}, "y": {"datum": 0.3574, "type": "quantitative"}}},
{"data": {"values": [{}]},
 "mark": {"type": "rect", "fill": "#ffffff", "stroke": "#2e6b30", "strokeWidth": 1.2},
 "encoding": {
  "x": {"datum": {"year": 2015, "month": 11, "date": 29, "utc": true}, "type": "temporal"},
  "x2": {"datum": {"year": 2016, "month": 5, "date": 22, "hours": 14, "utc": true}},
  "y": {"datum": 0.3419, "type": "quantitative"}, "y2": {"datum": 0.3243}}},
{"data": {"values": [{}]},
 "mark": {"type": "text", "text": "APOSTAMOS POR UN PRIMER IMPULSO", "align": "left", "baseline": "middle", "font": "Liberation Sans", "fontWeight": "bold", "fontSize": 13.5, "color": "#000"},
 "encoding": {"x": {"datum": {"year": 2015, "month": 12, "date": 4, "hours": 10, "utc": true}, "type": "temporal"}, "y": {"datum": 0.336, "type": "quantitative"}}},
{"data": {"values": [{}]},
 "mark": {"type": "text", "text": "HASTA LA ZONA DE LOS 0,30 € ZONALES.", "align": "left", "baseline": "middle", "font": "Liberation Sans", "fontWeight": "bold", "fontSize": 13.5, "color": "#000"},
 "encoding": {"x": {"datum": {"year": 2015, "month": 12, "date": 4, "hours": 10, "utc": true}, "type": "temporal"}, "y": {"datum": 0.3294, "type": "quantitative"}}},
{"data": {"values": [{}]},
 "mark": {"type": "rect", "fill": "#e6cff0", "stroke": "#a585b8", "strokeWidth": 1},
 "encoding": {
  "x": {"datum": {"year": 2015, "month": 6, "date": 10, "utc": true}, "type": "temporal"},
  "x2": {"datum": {"year": 2015, "month": 7, "date": 6, "hours": 22, "utc": true}},
  "y": {"datum": 0.3852, "type": "quantitative"}, "y2": {"datum": 0.3789}}},
{"data": {"values": [{}]},
 "mark": {"type": "rect", "fill": "#e6cff0", "stroke": "#a585b8", "strokeWidth": 1},
 "encoding": {
  "x": {"datum": {"year": 2015, "month": 7, "date": 8, "hours": 2, "utc": true}, "type": "temporal"},
  "x2": {"datum": {"year": 2015, "month": 11, "date": 14, "hours": 17, "utc": true}},
  "y": {"datum": 0.3852, "type": "quantitative"}, "y2": {"datum": 0.3789}}},
{"data": {"values": [{}]},
 "mark": {"type": "rect", "fill": "#e6cff0", "stroke": "#a585b8", "strokeWidth": 1},
 "encoding": {
  "x": {"datum": {"year": 2015, "month": 11, "date": 15, "hours": 22, "utc": true}, "type": "temporal"},
  "x2": {"datum": {"year": 2016, "month": 1, "date": 17, "utc": true}},
  "y": {"datum": 0.3852, "type": "quantitative"}, "y2": {"datum": 0.3789}}},
{"data": {"values": [{}]},
 "mark": {"type": "rect", "fill": "#e6cff0", "stroke": "#a585b8", "strokeWidth": 1},
 "encoding": {
  "x": {"datum": {"year": 2016, "month": 1, "date": 18, "hours": 5, "utc": true}, "type": "temporal"},
  "x2": {"datum": {"year": 2016, "month": 3, "date": 21, "hours": 12, "utc": true}},
  "y": {"datum": 0.3852, "type": "quantitative"}, "y2": {"datum": 0.3789}}},
{"data": {"values": [{}]},
 "mark": {"type": "text", "text": "Precio", "align": "center", "baseline": "middle", "font": "Liberation Serif", "fontSize": 14.5, "color": "#000"},
 "encoding": {"x": {"datum": {"year": 2015, "month": 6, "date": 23, "hours": 10, "utc": true}, "type": "temporal"}, "y": {"datum": 0.3819, "type": "quantitative"}}},
{"data": {"values": [{}]},
 "mark": {"type": "text", "text": "Órdenes recientemente ejecutadas", "align": "center", "baseline": "middle", "font": "Liberation Serif", "fontSize": 14.5, "color": "#ee7474"},
 "encoding": {"x": {"datum": {"year": 2015, "month": 9, "date": 10, "hours": 22, "utc": true}, "type": "temporal"}, "y": {"datum": 0.3819, "type": "quantitative"}}},
{"data": {"values": [{}]},
 "mark": {"type": "text", "text": "MM (Simple 20)", "align": "center", "baseline": "middle", "font": "Liberation Serif", "fontSize": 14.5, "color": "#1f4dff"},
 "encoding": {"x": {"datum": {"year": 2015, "month": 12, "date": 16, "hours": 22, "utc": true}, "type": "temporal"}, "y": {"datum": 0.3819, "type": "quantitative"}}},
{"data": {"values": [{}]},
 "mark": {"type": "text", "text": "MM (Simple 70)", "align": "center", "baseline": "middle", "font": "Liberation Serif", "fontSize": 14.5, "color": "#ee7474"},
 "encoding": {"x": {"datum": {"year": 2016, "month": 2, "date": 18, "hours": 22, "utc": true}, "type": "temporal"}, "y": {"datum": 0.3819, "type": "quantitative"}}},
{"data": {"values": [{}]},
 "mark": {"type": "text", "text": "0,3", "align": "left", "baseline": "alphabetic", "dx": 3, "dy": -3, "font": "Liberation Sans", "fontSize": 13, "color": "#333"},
 "encoding": {"x": {"datum": {"year": 2015, "month": 6, "date": 10, "utc": true}, "type": "temporal"}, "y": {"datum": 0.3, "type": "quantitative"}}},
{"data": {"values": [{}]},
 "mark": {"type": "text", "text": "0,2", "align": "left", "baseline": "alphabetic", "dx": 3, "dy": -3, "font": "Liberation Sans", "fontSize": 13, "color": "#333"},
 "encoding": {"x": {"datum": {"year": 2015, "month": 6, "date": 10, "utc": true}, "type": "temporal"}, "y": {"datum": 0.2, "type": "quantitative"}}},
{"data": {"values": [{}]},
 "mark": {"type": "text", "text": "© ProRealTime.com  Históricos ajustados con dividendos", "align": "left", "baseline": "middle", "dx": 3, "font": "Liberation Serif", "fontSize": 13, "color": "#000"},
 "encoding": {"x": {"datum": {"year": 2015, "month": 6, "date": 10, "utc": true}, "type": "temporal"}, "y": {"datum": 0.1831, "type": "quantitative"}}},
{"data": {"values": [{}]},
 "mark": {"type": "rect", "fill": "#ffffff", "stroke": "#a585b8", "strokeWidth": 1},
 "encoding": {
  "x": {"datum": {"year": 2016, "month": 8, "date": 30, "hours": 10, "utc": true}, "type": "temporal"},
  "x2": {"datum": {"year": 2016, "month": 9, "date": 25, "hours": 17, "utc": true}},
  "y": {"datum": 0.2232, "type": "quantitative"}, "y2": {"datum": 0.2156}}},
{"data": {"values": [{}]},
 "mark": {"type": "text", "text": "0,2161", "align": "left", "baseline": "middle", "dx": 3, "font": "Liberation Serif", "fontSize": 13, "color": "#ee7474"},
 "encoding": {"x": {"datum": {"year": 2016, "month": 8, "date": 30, "hours": 10, "utc": true}, "type": "temporal"}, "y": {"datum": 0.2174, "type": "quantitative"}}},
{"data": {"values": [{}]},
 "mark": {"type": "rect", "fill": "#ffffff", "stroke": "#a585b8", "strokeWidth": 1},
 "encoding": {
  "x": {"datum": {"year": 2016, "month": 8, "date": 30, "hours": 10, "utc": true}, "type": "temporal"},
  "x2": {"datum": {"year": 2016, "month": 9, "date": 28, "hours": 2, "utc": true}},
  "y": {"datum": 0.2156, "type": "quantitative"}, "y2": {"datum": 0.2094}}},
{"data": {"values": [{}]},
 "mark": {"type": "text", "text": "0,2140", "align": "left", "baseline": "middle", "dx": 3, "font": "Liberation Serif", "fontSize": 14, "color": "#1f4dff"},
 "encoding": {"x": {"datum": {"year": 2016, "month": 8, "date": 30, "hours": 10, "utc": true}, "type": "temporal"}, "y": {"datum": 0.2123, "type": "quantitative"}}},
{"data": {"values": [{}]},
 "mark": {"type": "rect", "fill": "#f7c400", "stroke": "#a585b8", "strokeWidth": 1},
 "encoding": {
  "x": {"datum": {"year": 2016, "month": 8, "date": 30, "hours": 10, "utc": true}, "type": "temporal"},
  "x2": {"datum": {"year": 2016, "month": 9, "date": 17, "hours": 22, "utc": true}},
  "y": {"datum": 0.2252, "type": "quantitative"}, "y2": {"datum": 0.2189}}},
{"data": {"values": [{}]},
 "mark": {"type": "text", "text": "0,22", "align": "left", "baseline": "middle", "dx": 3, "font": "Liberation Serif", "fontSize": 14.5, "color": "#000"},
 "encoding": {"x": {"datum": {"year": 2016, "month": 8, "date": 30, "hours": 10, "utc": true}, "type": "temporal"}, "y": {"datum": 0.222, "type": "quantitative"}}}
]
}
]
}
